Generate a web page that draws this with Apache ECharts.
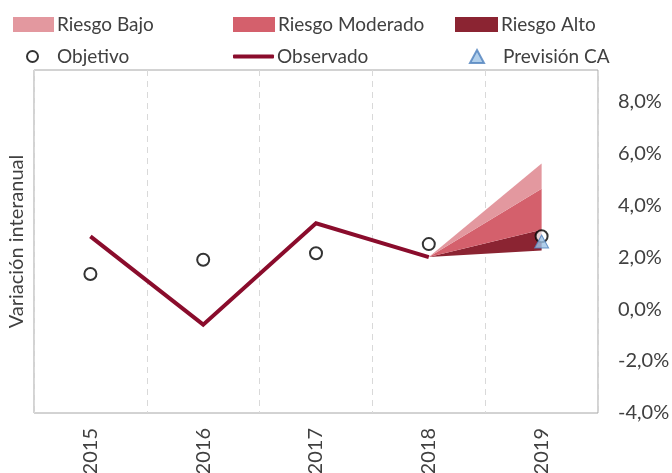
<!DOCTYPE html>
<html>
<head>
<meta charset="utf-8">
<script src="https://cdn.jsdelivr.net/npm/echarts@6/dist/echarts.min.js"></script>
<style>
html,body{margin:0;padding:0;background:#fff;}
#c{width:672px;height:473px;}
</style>
</head>
<body>
<div id="c"></div>
<script>
// ---- data ----
var years = ['2015', '2016', '2017', '2018', '2019'];
var observado = [2.8, -0.6, 3.3, 2.0, '-'];
var objetivo = [1.35, 1.9, 2.15, 2.5, 2.8];
var prevision = ['-', '-', '-', '-', 2.6];
// fan chart bounds (2018 origin, 2019 spread)
var fanBase = ['-', '-', '-', 2.0, 2.25];
var riesgoAltoTop = ['-', '-', '-', 2.0, 3.05];
var riesgoModeradoTop = ['-', '-', '-', 2.0, 4.63];
var riesgoBajoTop = ['-', '-', '-', 2.0, 5.6];
var yTicks = [-4, -2, 0, 2, 4, 6, 8];

function diff(a, b) {
  return a.map(function (v, i) { return v === '-' ? '-' : +(v - b[i]).toFixed(3); });
}

var FONT = 'Lato';
var TXT = '#404040';
var cBajo = '#e3989f', cMod = '#d4606c', cAlto = '#8b2432', cObs = '#8a0c2c';

function lg(name, left, top, icon, w, h, padL) {
  return {
    data: [name], left: left, top: top, icon: icon, padding: 0,
    itemWidth: w, itemHeight: h, selectedMode: false,
    textStyle: { color: TXT, fontFamily: FONT, fontSize: 19, padding: [0, 0, 0, padL] }
  };
}

var chart = echarts.init(document.getElementById('c'), null, { renderer: 'canvas' });
chart.setOption({
  animation: false,
  backgroundColor: '#fff',
  legend: [
    lg('Riesgo Bajo', 13, 15, 'rect', 41, 15, -2),
    lg('Riesgo Moderado', 233, 15, 'rect', 42, 15, -2),
    lg('Riesgo Alto', 455, 15, 'rect', 43, 15, -2),
    lg('Objetivo', 26, 47, 'circle', 11, 11, 14),
    lg('Observado', 233, 47, 'roundRect', 41, 4, -2),
    lg('Previsión CA', 469, 47, 'triangle', 14, 13, 14)
  ],
  grid: {
    left: 34, right: 74, top: 70, bottom: 60,
    outerBoundsMode: 'none', containLabel: false,
    show: true, borderColor: '#a6a6a6', borderWidth: 1, backgroundColor: 'transparent'
  },
  xAxis: {
    type: 'category', data: years, boundaryGap: true,
    axisLine: { show: false }, axisTick: { show: false },
    splitLine: { show: true, interval: 0, lineStyle: { color: '#d9d9d9', type: [6, 5], width: 1 } },
    axisLabel: { rotate: 90, margin: 15, color: TXT, fontFamily: FONT, fontSize: 20 }
  },
  yAxis: [{
    type: 'value', position: 'right', min: -4, max: 9.2, interval: 2,
    axisLine: { show: false }, axisTick: { show: false }, splitLine: { show: false },
    axisLabel: {
      showMaxLabel: false, margin: 20, align: 'left', color: TXT, fontFamily: FONT, fontSize: 20,
      formatter: function (v) {
        if (yTicks.indexOf(v) < 0) return '';
        return v.toFixed(1).replace('.', ',') + '%';
      }
    }
  }, {
    type: 'value', position: 'left', min: -4, max: 9.2, interval: 2,
    axisLine: { show: false }, axisTick: { show: false }, splitLine: { show: false },
    axisLabel: { show: false },
    name: 'Variación interanual', nameLocation: 'middle', nameGap: 7, nameRotate: 90,
    nameTextStyle: { color: TXT, fontFamily: FONT, fontSize: 20 }
  }],
  series: [
    { name: 'base', type: 'line', stack: 'fan', data: fanBase, symbol: 'none',
      lineStyle: { width: 0 }, areaStyle: { opacity: 0 }, silent: true },
    { name: 'Riesgo Alto', type: 'line', stack: 'fan', data: diff(riesgoAltoTop, fanBase), symbol: 'none',
      itemStyle: { color: cAlto }, lineStyle: { width: 0 }, areaStyle: { color: cAlto, opacity: 1 } },
    { name: 'Riesgo Moderado', type: 'line', stack: 'fan', data: diff(riesgoModeradoTop, riesgoAltoTop), symbol: 'none',
      itemStyle: { color: cMod }, lineStyle: { width: 0 }, areaStyle: { color: cMod, opacity: 1 } },
    { name: 'Riesgo Bajo', type: 'line', stack: 'fan', data: diff(riesgoBajoTop, riesgoModeradoTop), symbol: 'none',
      itemStyle: { color: cBajo }, lineStyle: { width: 0 }, areaStyle: { color: cBajo, opacity: 1 } },
    { name: 'Observado', type: 'line', data: observado, symbol: 'none',
      itemStyle: { color: cObs }, lineStyle: { color: cObs, width: 4, join: 'miter' } },
    { name: 'Objetivo', type: 'scatter', data: objetivo, symbol: 'circle', symbolSize: 12, z: 5,
      itemStyle: { color: '#ffffff', borderColor: '#000000', borderWidth: 2 } },
    { name: 'Previsión CA', type: 'scatter', data: prevision, symbol: 'triangle', symbolSize: [14, 13], z: 6,
      itemStyle: { color: '#9dc3e6', borderColor: '#4f81bd', borderWidth: 1 } }
  ]
});
</script>
</body>
</html>
